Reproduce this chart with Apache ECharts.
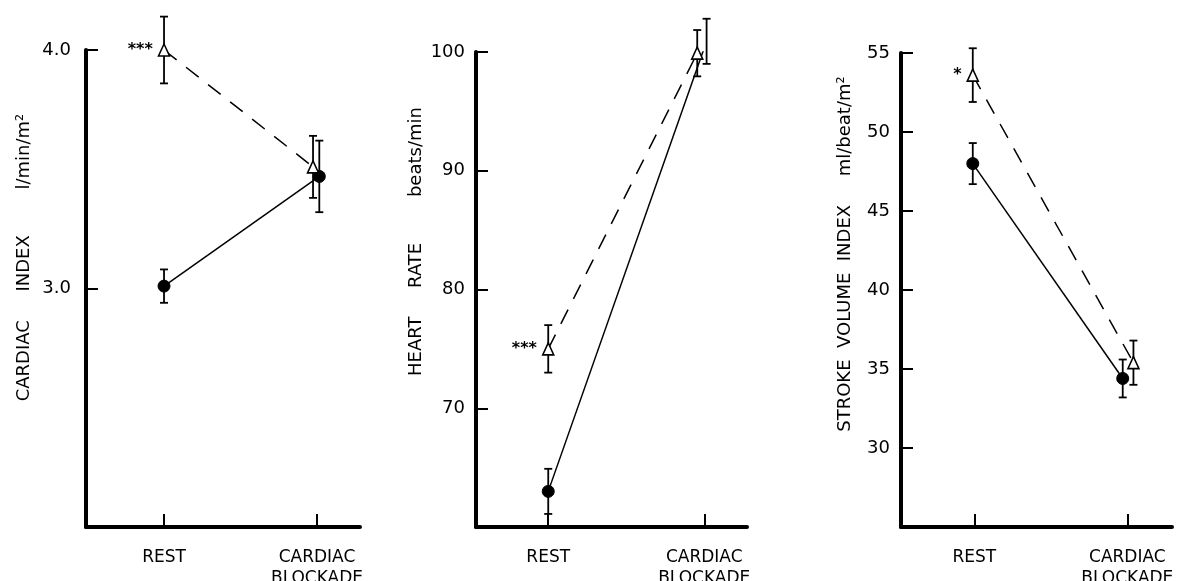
<!DOCTYPE html>
<html>
<head>
<meta charset="utf-8">
<script src="https://cdn.jsdelivr.net/npm/echarts@6/dist/echarts.min.js"></script>
<style>html,body{margin:0;padding:0;background:#fff}#c{width:1177px;height:581px}</style>
</head>
<body>
<div id="c"></div>
<script>
// ---------- data ----------
const categories = ['REST', 'CARDIAC\nBLOCKADE'];
const categoryPos = [1, 2];

// Cardiac index (l/min/m2)
const ciTicks = [3, 4];
const ciTriX = [1.0, 1.974];
const ciTriY = [4.00, 3.51];
const ciTriErr = [0.14, 0.13];
const ciDotX = [1.0, 2.015];
const ciDotY = [3.01, 3.47];
const ciDotErr = [0.07, 0.15];
const ciSig = ['***', ''];

// Heart rate (beats/min)
const hrTicks = [70, 80, 90, 100];
const hrTriX = [1.0, 1.955];
const hrTriY = [75.0, 99.9];
const hrTriErr = [2.0, 1.95];
const hrDotX = [1.0, 2.015];
const hrDotY = [63.0, 100.9];
const hrDotErr = [1.9, 1.9];
const hrSig = ['***', ''];

// Stroke volume index (ml/beat/m2)
const svTicks = [30, 35, 40, 45, 50, 55];
const svTriX = [0.99, 2.04];
const svTriY = [53.6, 35.4];
const svTriErr = [1.7, 1.4];
const svDotX = [0.99, 1.97];
const svDotY = [48.0, 34.4];
const svDotErr = [1.3, 1.2];
const svSig = ['*', ''];

// ---------- layout ----------
const FONT = 'DejaVu Sans';
const panels = [
  {grid: {left: 86, top: 50, width: 274, height: 477}, x: [0.49, 2.281], y: [2, 4], ticks: ciTicks, dec: 1,
   name: 'CARDIAC     INDEX        l/min/m²', namePad: 62, nameGap: 53, labelMargin: 15,
   tri: [ciTriX, ciTriY, ciTriErr], dot: [ciDotX, ciDotY, ciDotErr], sig: ciSig},
  {grid: {left: 476, top: 52, width: 271, height: 475}, x: [0.537, 2.274], y: [60, 100], ticks: hrTicks, dec: 0,
   name: 'HEART     RATE        beats/min', namePad: 96, nameGap: 51, labelMargin: 11,
   tri: [hrTriX, hrTriY, hrTriErr], dot: [hrDotX, hrDotY, hrDotErr], sig: hrSig},
  {grid: {left: 901, top: 53, width: 271, height: 474}, x: [0.521, 2.292], y: [25, 55], ticks: svTicks, dec: 0,
   name: 'STROKE  VOLUME  INDEX     ml/beat/m²', namePad: 72, nameGap: 47, labelMargin: 11,
   tri: [svTriX, svTriY, svTriErr], dot: [svDotX, svDotY, svDotErr], sig: svSig}
];

const grids = [], xAxes = [], yAxes = [], series = [];

function errBars(idx, arr) {
  const data = arr[0].map((x, i) => [x, arr[1][i], arr[2][i]]);
  return {
    type: 'custom', xAxisIndex: idx, yAxisIndex: idx, z: 3, silent: true,
    data: data,
    renderItem: function (params, api) {
      const x = api.value(0), y = api.value(1), e = api.value(2);
      const lo = api.coord([x, y - e]);
      const hi = api.coord([x, y + e]);
      const w = 4;
      const st = {stroke: '#000', lineWidth: 1.8};
      return {type: 'group', children: [
        {type: 'line', shape: {x1: lo[0], y1: lo[1], x2: hi[0], y2: hi[1]}, style: st},
        {type: 'line', shape: {x1: lo[0] - w, y1: lo[1], x2: lo[0] + w, y2: lo[1]}, style: st},
        {type: 'line', shape: {x1: hi[0] - w, y1: hi[1], x2: hi[0] + w, y2: hi[1]}, style: st}
      ]};
    }
  };
}

panels.forEach((p, i) => {
  grids.push(Object.assign({containLabel: false, outerBoundsMode: 'none'}, p.grid));
  xAxes.push({
    type: 'value', gridIndex: i, min: p.x[0], max: p.x[1],
    axisLine: {show: true, lineStyle: {color: '#000', width: 4}},
    axisTick: {show: true, inside: true, length: 13, lineStyle: {color: '#000', width: 2}, customValues: categoryPos},
    axisLabel: {show: true, customValues: categoryPos, margin: 20, color: '#000', fontFamily: FONT, fontSize: 17, lineHeight: 21,
      formatter: v => categories[categoryPos.indexOf(Math.round(v))] || ''},
    splitLine: {show: false}
  });
  yAxes.push({
    type: 'value', gridIndex: i, min: p.y[0], max: p.y[1],
    axisLine: {show: true, lineStyle: {color: '#000', width: 4}},
    axisTick: {show: true, inside: true, length: 12, lineStyle: {color: '#000', width: 2}, customValues: p.ticks},
    axisLabel: {show: true, customValues: p.ticks, margin: p.labelMargin, color: '#000', fontFamily: FONT, fontSize: 18,
      formatter: v => v.toFixed(p.dec)},
    splitLine: {show: false},
    name: p.name, nameLocation: 'middle', nameRotate: 90, nameGap: p.nameGap,
    nameTextStyle: {color: '#000', fontFamily: FONT, fontSize: 18, padding: [0, 0, 0, p.namePad]}
  });
  const triData = p.tri[0].map((x, k) => [x, p.tri[1][k]]);
  const dotData = p.dot[0].map((x, k) => [x, p.dot[1][k]]);
  series.push({
    type: 'line', xAxisIndex: i, yAxisIndex: i, data: dotData, z: 2,
    symbol: 'circle', symbolSize: 12, showAllSymbol: true,
    itemStyle: {color: '#000', borderColor: '#000'},
    lineStyle: {color: '#000', width: 1.5, type: 'solid'}, animation: false
  });
  series.push({
    type: 'line', xAxisIndex: i, yAxisIndex: i, data: triData, z: 4,
    symbol: 'triangle', symbolSize: [11, 12], showAllSymbol: true,
    itemStyle: {color: '#fff', borderColor: '#000', borderWidth: 1.6},
    lineStyle: {color: '#000', width: 1.5, type: [16, 12]},
    label: {show: true, position: 'left', distance: 5, color: '#000', fontFamily: FONT, fontSize: 16, fontWeight: 'bold',
      formatter: prm => p.sig[prm.dataIndex]},
    animation: false
  });
  series.push(errBars(i, p.tri));
  series.push(errBars(i, p.dot));
});

const chart = echarts.init(document.getElementById('c'), null, {renderer: 'canvas'});
chart.setOption({
  backgroundColor: '#fff',
  animation: false,
  grid: grids, xAxis: xAxes, yAxis: yAxes, series: series
});
</script>
</body>
</html>
